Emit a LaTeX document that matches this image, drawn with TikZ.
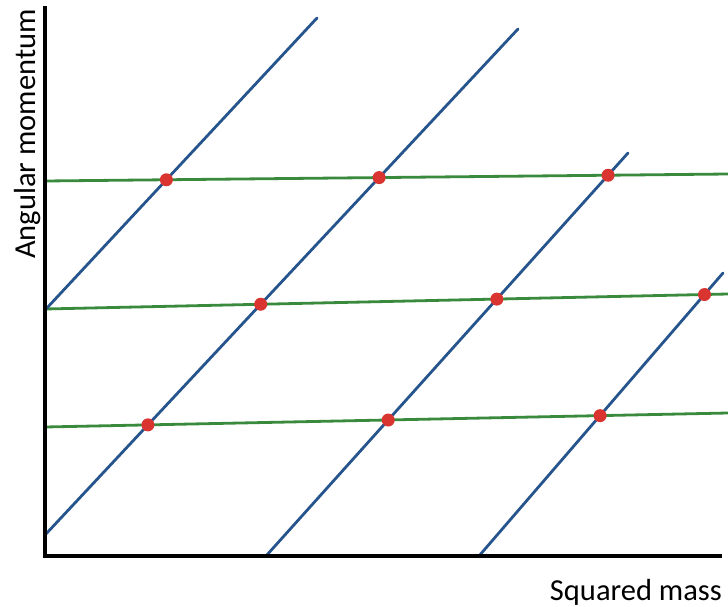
\documentclass[tikz,border=0pt]{standalone}
\usepackage{fontspec}
\setmainfont{Carlito}
\definecolor{trajblue}{RGB}{38,84,140}
\definecolor{levelgreen}{RGB}{58,138,62}
\definecolor{statered}{RGB}{218,52,48}
\tikzset{
  axis/.style={line width=3.2pt, black},
  traj/.style={line width=2.8pt, trajblue, line cap=round},
  level/.style={line width=2.8pt, levelgreen},
  state/.style={circle, fill=statered, inner sep=0pt, minimum size=13pt},
  axislabel/.style={font=\fontsize{30.5}{36}\selectfont, inner sep=0pt}
}
\begin{document}
\begin{tikzpicture}[x=1pt,y=-1pt]
\useasboundingbox (0,0) rectangle (728,607);
% green levels
\coordinate (g1s) at (45,181);
\coordinate (g1e) at (728,174);
\coordinate (g2s) at (45,309);
\coordinate (g2e) at (728,294);
\coordinate (g3s) at (45,427);
\coordinate (g3e) at (728,413);
\draw[level] (g1s) -- (g1e);
\draw[level] (g2s) -- (g2e);
\draw[level] (g3s) -- (g3e);
% blue trajectories
\coordinate (b1s) at (46,309);
\coordinate (b1e) at (317,18);
\coordinate (b2s) at (45,535);
\coordinate (b2e) at (518,29);
\coordinate (b3s) at (266,556);
\coordinate (b3e) at (628,153);
\coordinate (b4s) at (479,556);
\coordinate (b4e) at (723,273);
\draw[traj] (b1s) -- (b1e);
\draw[traj] (b2s) -- (b2e);
\draw[traj] (b3s) -- (b3e);
\draw[traj] (b4s) -- (b4e);
% axes
\coordinate (top) at (45,6);
\coordinate (o) at (45,556);
\coordinate (xend) at (722,556);
\draw[axis] (top) -- (o) -- (xend);
\node[axislabel, rotate=90, anchor=base] (ylab) at (35,134) {Angular momentum};
\node[axislabel, anchor=base east] (xlab) at (722,600) {Squared mass};
% states
\node[state] (s11) at (intersection of b1s--b1e and g1s--g1e) {};
\node[state] (s21) at (intersection of b2s--b2e and g1s--g1e) {};
\node[state] (s31) at (intersection of b3s--b3e and g1s--g1e) {};
\node[state] (s22) at (intersection of b2s--b2e and g2s--g2e) {};
\node[state] (s32) at (intersection of b3s--b3e and g2s--g2e) {};
\node[state] (s42) at (intersection of b4s--b4e and g2s--g2e) {};
\node[state] (s23) at (intersection of b2s--b2e and g3s--g3e) {};
\node[state] (s33) at (intersection of b3s--b3e and g3s--g3e) {};
\node[state] (s43) at (intersection of b4s--b4e and g3s--g3e) {};
\end{tikzpicture}
\end{document}
